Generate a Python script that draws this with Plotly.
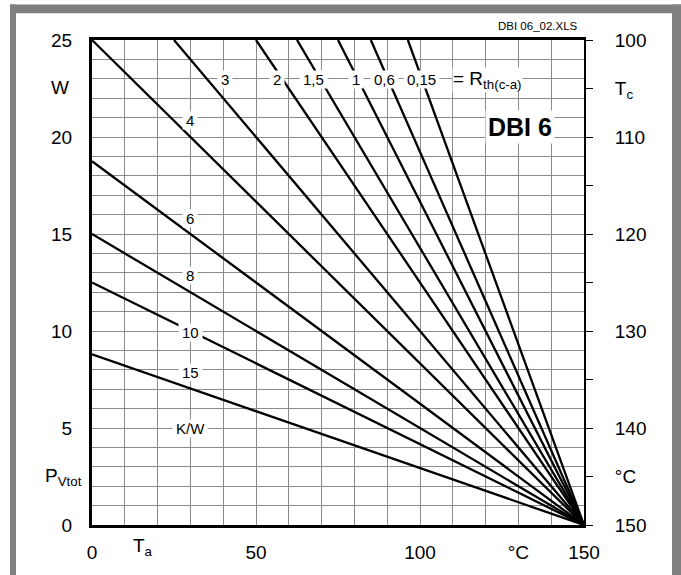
import plotly.graph_objects as go

# ---- data ----
# thermal resistance case-ambient labels (K/W) of each derating line
rth_ca = ["15", "10", "8", "6", "4", "3", "2", "1,5", "1", "0,6", "0,15"]
# point where each line enters the plot (Ta in degC, P in W)
start_ta = [0, 0, 0, 0, 0, 25, 50, 62.5, 75, 85, 96.3]
start_p = [8.8, 12.5, 15, 18.75, 25, 25, 25, 25, 25, 25, 25]
# common end point of all lines
end_ta = [150] * len(rth_ca)
end_p = [0] * len(rth_ca)

# in-plot line labels
lab_text = ["4", "6", "8", "10", "15", "K/W", "3", "2", "1,5", "1", "0,6", "0,15"]
lab_x = [30, 30, 30, 30, 30, 30, 40.5, 56.4, 67.4, 80.5, 89.3, 100.5]
lab_y = [20.85, 15.8, 12.85, 9.9, 7.85, 5.0, 22.95, 22.95, 22.95, 22.95, 22.95, 22.95]

# axis ticks
x_ticks = [0, 50, 100, 130, 150]
x_ticktext = ["0", "50", "100", "°C", "150"]
y_ticks = [0, 5, 10, 15, 20, 25]
y_ticktext = ["0", "5", "10", "15", "20", "25"]
tc_ticks = [100, 105, 110, 120, 130, 140, 145, 150]
tc_ticktext = ["100", "T<sub>c</sub>", "110", "120", "130", "140", "°C", "150"]

FONT = "Liberation Sans, Arial, sans-serif"
GRID = "rgb(140,140,140)"

fig = go.Figure()
for i, name in enumerate(rth_ca):
    fig.add_trace(go.Scatter(
        x=[start_ta[i], end_ta[i]], y=[start_p[i], end_p[i]],
        mode="lines", line=dict(color="black", width=2.3),
        name=name, showlegend=False, hoverinfo="skip"))
# right-axis carrier trace (invisible)
fig.add_trace(go.Scatter(x=[None], y=[None], yaxis="y2", showlegend=False, hoverinfo="skip"))

annotations = []
for t, x, y in zip(lab_text, lab_x, lab_y):
    annotations.append(dict(
        x=x, y=y, xref="x", yref="y", text="\u2009" + t + "\u2009", showarrow=False,
        font=dict(family=FONT, size=15, color="black"),
        bgcolor="white", borderpad=0))
annotations.append(dict(
    x=120.7, y=22.95, xref="x", yref="y",
    text="= R<sub>th(c-a)</sub>", showarrow=False,
    font=dict(family=FONT, size=19, color="black"), bgcolor="white", borderpad=0))
annotations.append(dict(
    x=130.5, y=20.5, xref="x", yref="y", text="<b>DBI 6</b>", showarrow=False,
    font=dict(family=FONT, size=25, color="black"), bgcolor="white", borderpad=2))
annotations.append(dict(
    x=0.9919, y=1.0285, xref="paper", yref="paper", text="DBI 06_02.XLS",
    xanchor="right", yanchor="middle", showarrow=False,
    font=dict(family=FONT, size=11.5, color="black")))
annotations.append(dict(
    x=-0.0427, y=22.55, xref="paper", yref="y", text="W", xanchor="right",
    showarrow=False, font=dict(family=FONT, size=19, color="black")))
annotations.append(dict(
    x=-0.016, y=2.5, xref="paper", yref="y", text="P<sub>Vtot</sub>", xanchor="right",
    showarrow=False, font=dict(family=FONT, size=19, color="black")))
annotations.append(dict(
    x=15.5, y=-0.045, xref="x", yref="paper", text="T<sub>a</sub>", yanchor="middle",
    showarrow=False, font=dict(family=FONT, size=19, color="black")))

frame = "rgb(128,128,128)"
shapes = [
    dict(type="rect", xref="paper", yref="paper", x0=-0.1667, x1=-0.1545, y0=-0.2, y1=1.0733,
         fillcolor=frame, line=dict(width=0), layer="above"),
    dict(type="rect", xref="paper", yref="paper", x0=-0.1667, x1=1.2, y0=1.055, y1=1.0733,
         fillcolor=frame, line=dict(width=0), layer="above"),
    dict(type="rect", xref="paper", yref="paper", x0=1.1789, x1=1.2, y0=-0.2, y1=1.0733,
         fillcolor=frame, line=dict(width=0), layer="above"),
]

fig.update_layout(
    width=681, height=575, autosize=False,
    margin=dict(l=92, r=97, t=40, b=44),
    paper_bgcolor="white", plot_bgcolor="white",
    showlegend=False,
    annotations=annotations, shapes=shapes,
    xaxis=dict(range=[0, 150], tickmode="array", tickvals=x_ticks, ticktext=x_ticktext,
               showgrid=True, gridcolor=GRID, gridwidth=1, zeroline=False,
               minor=dict(tickmode="linear", tick0=0, dtick=10, showgrid=True,
                          gridcolor=GRID, gridwidth=1, ticks=""),
               showline=True, linecolor="black", linewidth=3, mirror=True,
               ticks="", ticklabelstandoff=8,
               tickfont=dict(family=FONT, size=19, color="black")),
    yaxis=dict(range=[0, 25], tickmode="array", tickvals=y_ticks, ticktext=y_ticktext,
               showgrid=True, gridcolor=GRID, gridwidth=1, zeroline=False,
               minor=dict(tickmode="linear", tick0=0, dtick=1, showgrid=True,
                          gridcolor=GRID, gridwidth=1, ticks=""),
               showline=True, linecolor="black", linewidth=3,
               ticks="", ticklabelstandoff=13,
               tickfont=dict(family=FONT, size=19, color="black")),
    yaxis2=dict(range=[150, 100], overlaying="y", side="right",
                tickmode="array", tickvals=tc_ticks, ticktext=tc_ticktext,
                showgrid=False, zeroline=False,
                minor=dict(tickmode="linear", tick0=100, dtick=5, showgrid=False,
                           ticks="outside", ticklen=7, tickcolor="black", tickwidth=1),
                showline=True, linecolor="black", linewidth=2,
                ticks="outside", ticklen=7, tickcolor="black", tickwidth=1,
                ticklabelstandoff=18,
                tickfont=dict(family=FONT, size=19, color="black")),
)

fig.write_html("out.html", config={"displayModeBar": False},
               post_script="document.body.style.margin='0';")
